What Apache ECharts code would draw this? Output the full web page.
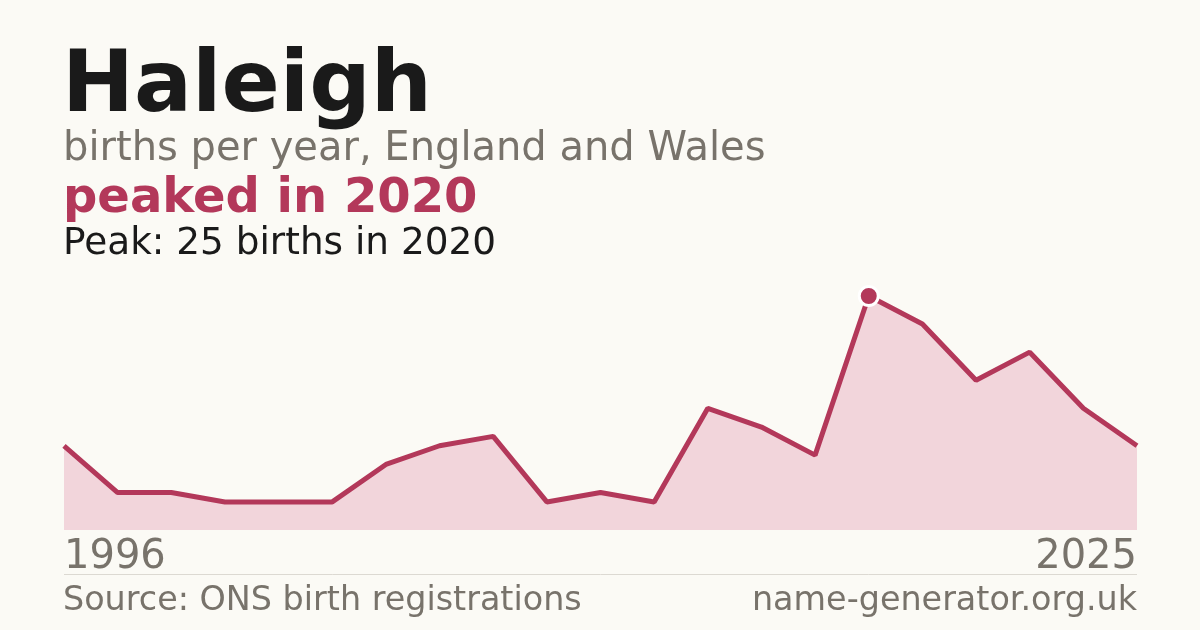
<!DOCTYPE html>
<html>
<head>
<meta charset="utf-8">
<script src="https://cdn.jsdelivr.net/npm/echarts@6/dist/echarts.min.js"></script>
<style>
  html, body { margin: 0; padding: 0; background: #fbfaf5; }
  #chart { width: 1200px; height: 630px; }
</style>
</head>
<body>
<div id="chart"></div>
<script>
// Years with recorded births (only first and last are labelled)
const years = ["1996", "1999", "2000", "2002", "2003", "2004", "2006", "2007", "2008", "2010",
  "2011", "2012", "2014", "2016", "2019", "2020", "2021", "2022", "2023", "2024", "2025"];
const births = [9, 4, 4, 3, 3, 3, 7, 9, 10, 3, 4, 3, 13, 11, 8, 25, 22, 16, 19, 13, 9];
const peakIndex = 15;

const red = "#b3385a";
const grey = "#78736b";
const font = "DejaVu Sans";

let seriesData = births.map(function (v, i) {
  if (i === peakIndex) {
    return {
      value: v,
      symbol: "circle",
      symbolSize: 19,
      itemStyle: { color: red, borderColor: "#ffffff", borderWidth: 3 },
    };
  }
  return { value: v, symbol: "none" };
});

function textTitle(text, pos, size, weight, color) {
  return Object.assign({
    text: text,
    padding: 0,
    textStyle: { fontFamily: font, fontSize: size, fontWeight: weight, color: color },
  }, pos);
}

var myChart = echarts.init(document.getElementById("chart"), null, { renderer: "canvas" });
var option = {
  backgroundColor: "#fbfaf5",
  animation: false,
  title: [
    textTitle("Haleigh", { left: 62, top: 46 }, 86, "bold", "#1a1a1a"),
    textTitle("births per year, England and Wales", { left: 63, top: 130 }, 40, "normal", grey),
    textTitle("peaked in 2020", { left: 63, top: 176 }, 48, "bold", red),
    textTitle("Peak: 25 births in 2020", { left: 63, top: 226 }, 37.4, "normal", "#1a1a1a"),
    textTitle("Source: ONS birth registrations", { left: 63, top: 585 }, 33.4, "normal", grey),
    textTitle("name-generator.org.uk", { right: 63, top: 585 }, 33.4, "normal", grey),
  ],
  grid: { left: 64, right: 63, top: 296, bottom: 100 },
  xAxis: {
    type: "category",
    data: years,
    boundaryGap: false,
    axisLine: { show: false },
    axisTick: { show: false },
    axisLabel: {
      interval: function (i) { return i === 0 || i === years.length - 1; },
      alignMinLabel: "left",
      alignMaxLabel: "right",
      margin: 8,
      fontFamily: font,
      fontSize: 40,
      color: grey,
    },
  },
  yAxis: { type: "value", min: 0, max: 25, show: false, splitLine: { show: false } },
  graphic: [
    {
      type: "line",
      shape: { x1: 64, y1: 574.5, x2: 1137, y2: 574.5 },
      style: { stroke: "#dcd9d2", lineWidth: 1 },
    },
  ],
  series: [
    {
      type: "line",
      data: seriesData,
      showSymbol: true,
      lineStyle: { color: red, width: 5 },
      areaStyle: { color: "#f2d5db", opacity: 1 },
      z: 3,
    },
  ],
};
myChart.setOption(option);
window.addEventListener("resize", myChart.resize);
</script>
</body>
</html>
